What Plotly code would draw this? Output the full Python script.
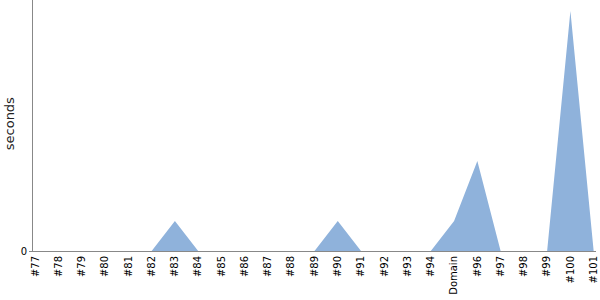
import plotly.graph_objects as go

categories = ["#77", "#78", "#79", "#80", "#81", "#82", "#83", "#84", "#85", "#86",
              "#87", "#88", "#89", "#90", "#91", "#92", "#93", "#94", "Domain", "#96",
              "#97", "#98", "#99", "#100", "#101"]
seconds = [0, 0, 0, 0, 0, 0, 1, 0, 0, 0,
           0, 0, 0, 1, 0, 0, 0, 0, 1, 3,
           0, 0, 0, 8, 0]

fig = go.Figure()
fig.add_trace(go.Scatter(
    x=list(range(len(categories))), y=seconds, mode="lines",
    line=dict(width=0, color="rgb(143,178,219)"),
    fill="tozeroy", fillcolor="rgb(143,178,219)", hoverinfo="skip",
))
fig.update_layout(
    width=600, height=300,
    margin=dict(l=33, r=4, t=0, b=49),
    paper_bgcolor="white", plot_bgcolor="white",
    showlegend=False,
    font=dict(family="DejaVu Sans", size=10, color="black"),
    xaxis=dict(
        tickmode="array", tickvals=list(range(len(categories))), ticktext=categories,
        tickangle=-90, range=[-0.1, 24.1], showgrid=False, zeroline=False,
        showline=True, linecolor="#888", linewidth=1, ticks="", ticklen=0,
        tickfont=dict(size=10, color="black"), automargin=False,
    ),
    yaxis=dict(
        range=[0, 8.37], tickmode="array", tickvals=[0], ticktext=["0"],
        showgrid=False, zeroline=False, showline=True, linecolor="#888", linewidth=1,
        ticks="outside", ticklen=3, tickcolor="#888",
        tickfont=dict(size=10, color="black"), automargin=False,
    ),
    annotations=[dict(
        text="seconds", textangle=-90, xref="paper", yref="paper",
        x=-33 / 563, y=0.505, xanchor="center", yanchor="middle",
        xshift=9, showarrow=False, font=dict(size=13, color="#222"),
    )],
)
fig.write_html("out.html")
